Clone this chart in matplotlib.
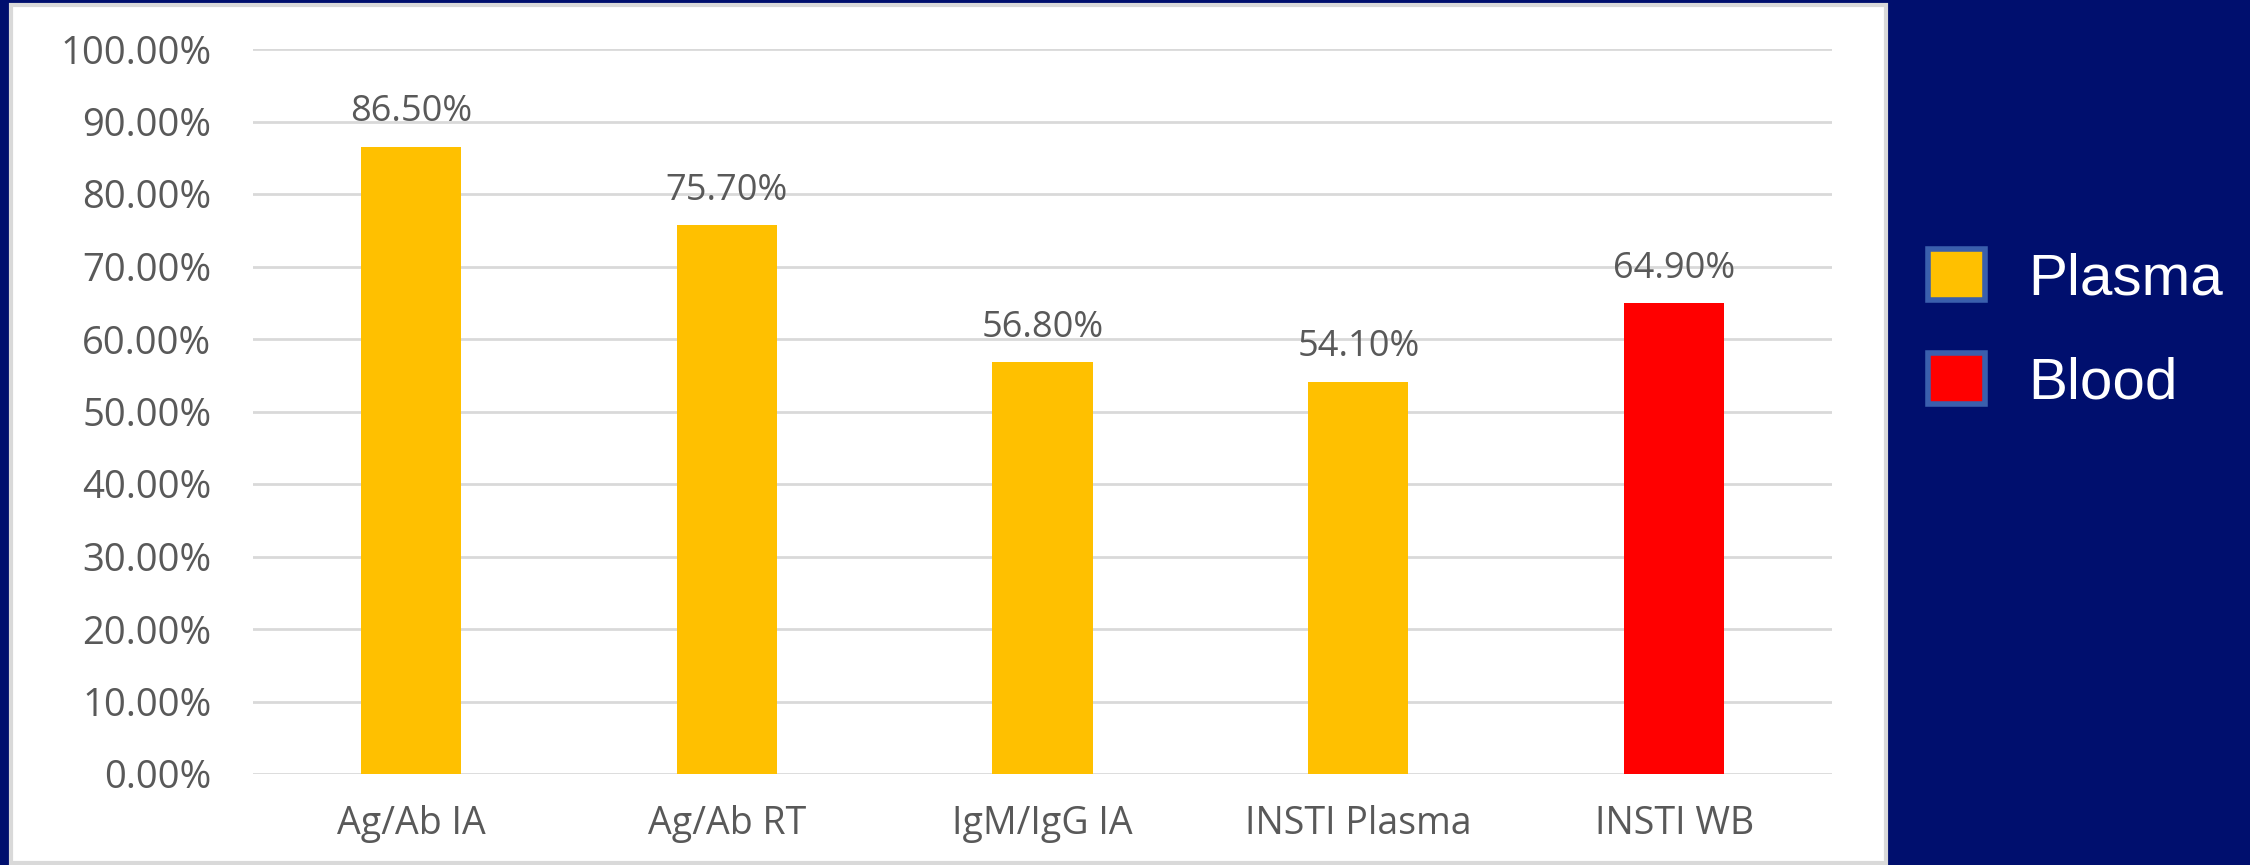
import matplotlib.pyplot as plt
from matplotlib.patches import Rectangle, Patch

categories = ["Ag/Ab IA", "Ag/Ab RT", "IgM/IgG IA", "INSTI Plasma", "INSTI WB"]
values = [86.5, 75.7, 56.8, 54.1, 64.9]
sample = ["Plasma", "Plasma", "Plasma", "Plasma", "Blood"]
colors = {"Plasma": "#FFC000", "Blood": "#FF0000"}
yticks = [0, 10, 20, 30, 40, 50, 60, 70, 80, 90, 100]

navy = "#000F6E"
gray = "#595959"

fig = plt.figure(figsize=(22.5, 8.65), dpi=100, facecolor=navy)

# white chart panel behind the axes
fig.patches.append(Rectangle((11/2250, 2/865), (1886-11)/2250, (860-2)/865,
                             transform=fig.transFigure, facecolor="white",
                             edgecolor="#D9D9D9", linewidth=3, zorder=-5))

ax = fig.add_axes([253/2250, 91/865, (1832-253)/2250, (816-91)/865])
ax.set_facecolor("white")
x = list(range(len(categories)))
bars = ax.bar(x, values, width=0.317, color=[colors[s] for s in sample], zorder=3)
ax.bar_label(bars, labels=["%.2f%%" % v for v in values], padding=12,
             fontsize=26, color=gray, family="Open Sans")

ax.set_xlim(-0.5, len(categories) - 0.5)
ax.set_ylim(0, 100)
ax.set_yticks(yticks)
ax.set_yticklabels(["%.2f%%" % t for t in yticks], family="Open Sans", fontsize=27.5, color=gray)
ax.set_xticks(x)
ax.set_xticklabels(categories, family="Open Sans", fontsize=27, color=gray)
ax.tick_params(length=0, pad=30)
ax.tick_params(axis="x", pad=22)
ax.grid(axis="y", color="#D9D9D9", linewidth=2, zorder=0)
ax.set_axisbelow(True)
for s in ax.spines.values():
    s.set_visible(False)

handles = [Patch(facecolor=colors[k], edgecolor="#3A5FAD", linewidth=4) for k in ["Plasma", "Blood"]]
fig.legend(handles, ["Plasma", "Blood"], loc="upper left", bbox_to_anchor=(1928/2250, 1 - 249/865),
           frameon=False, labelcolor="white", handlelength=0.97, handleheight=0.97,
           handletextpad=0.75, labelspacing=0.79, borderpad=0, borderaxespad=0,
           prop={"family": "Liberation Sans", "size": 42})

fig.savefig("out.png", dpi=100, facecolor=navy)
